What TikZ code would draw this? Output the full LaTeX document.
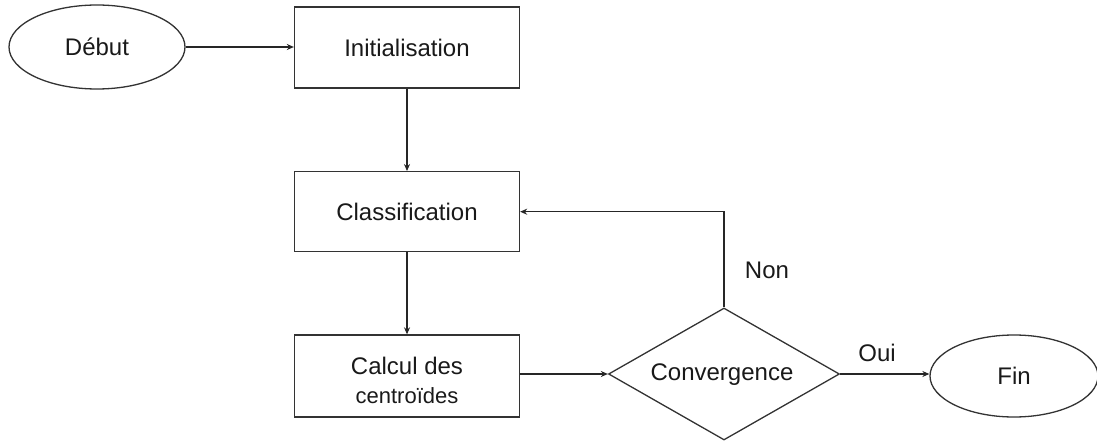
\documentclass[tikz,border=0pt]{standalone}
\usepackage{fontspec}
\setmainfont{Liberation Sans}
\usetikzlibrary{shapes.geometric,arrows.meta}

\begin{document}
\begin{tikzpicture}[x=1pt,y=-1pt,
  font=\fontsize{24}{29}\selectfont,
  every node/.style={text=black!90},
  terminal/.style={ellipse,draw=black!80,line width=1.3pt,minimum width=176pt,minimum height=84pt,inner sep=0pt},
  stepbox/.style={rectangle,draw=black!80,line width=1.3pt,minimum width=225pt,inner sep=0pt,align=center},
  decision/.style={diamond,draw=black!80,line width=1.3pt,minimum width=231pt,minimum height=132pt,inner sep=0pt},
  flow/.style={draw=black!85,line width=1.3pt,-{Stealth[length=7pt,width=6pt]}},
  tag/.style={inner sep=0pt,align=center}]
  \useasboundingbox (0,0) rectangle (1097,441);

  % start and end
  \node[terminal] (debut) at (97,47) {D\'ebut};
  \node[terminal,minimum width=168pt,minimum height=82pt] (fin) at (1014,376) {Fin};

  % processing steps
  \node[stepbox,minimum height=81pt] (init) at (407,47.5) {Initialisation};
  \node[stepbox,minimum height=80pt] (class) at (407,211.7) {Classification};
  \node[stepbox,minimum height=82pt] (calc) at (407,376) {};
  \node[tag] (calctext) at (407,380)
    {Calcul des\\{\fontsize{22}{25}\selectfont centro\"ides}};

  % convergence test
  \node[decision] (conv) at (724,374) {};
  \node[tag] (convtext) at (722,375) {Convergence};

  % connectors
  \draw[flow] (debut.east) -- (init.west |- debut.east);
  \draw[flow] (init.south) -- (class.north);
  \draw[flow] (class.south) -- (calc.north);
  \draw[flow] (calc.east |- conv.west) -- (conv.west);
  \draw[flow] (conv.east) -- (fin.west |- conv.east);
  \draw[flow] (conv.north) |- (class.east);

  % branch labels
  \node[tag] (non) at (767,270) {Non};
  \node[tag] (oui) at (877,353) {Oui};
\end{tikzpicture}
\end{document}
